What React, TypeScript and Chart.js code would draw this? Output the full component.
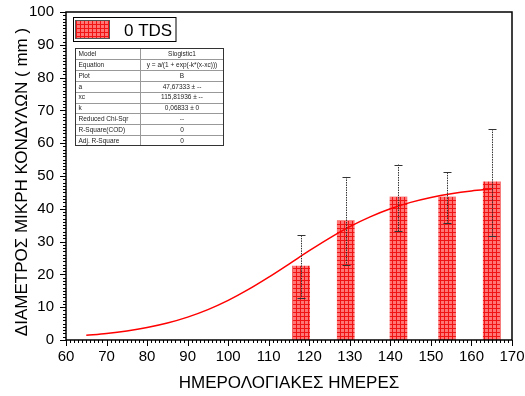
import React, { useEffect, useRef } from "react";
import { Chart, registerables } from "chart.js";

Chart.register(...registerables);

const dayLabels = [118, 129, 142, 154, 165];
const meanDiameter = [22.5, 36.3, 43.6, 43.6, 48.2];
const errUpper = [31.9, 49.7, 53.5, 51.1, 64.3];
const errLower = [12.9, 22.9, 33.2, 35.6, 31.6];

const fitDays = [65, 70, 75, 80, 85, 90, 95, 100, 105, 110, 115, 120, 125, 130, 135, 140, 145, 150, 155, 160, 165];
const fitValues = [1.43, 1.99, 2.76, 3.8, 5.17, 6.97, 9.26, 12.07, 15.41, 19.16, 23.16, 27.22, 31.07, 34.56, 37.54, 40.01, 41.96, 43.46, 44.6, 45.45, 46.07];

const xTicks = [60, 70, 80, 90, 100, 110, 120, 130, 140, 150, 160, 170];
const yTicks = [0, 10, 20, 30, 40, 50, 60, 70, 80, 90, 100];

const tableRows: [string, string][] = [
  ["Model", "Slogistic1"],
  ["Equation", "y = a/(1 + exp(-k*(x-xc)))"],
  ["Plot", "B"],
  ["a", "47,67333 \u00b1 --"],
  ["xc", "115,81936 \u00b1 --"],
  ["k", "0,06833 \u00b1 0"],
  ["Reduced Chi-Sqr", "--"],
  ["R-Square(COD)", "0"],
  ["Adj. R-Square", "0"],
];

const legendLabel = "0 TDS";
const xTitle = "ΗΜΕΡΟΛΟΓΙΑΚΕΣ ΗΜΕΡΕΣ";
const yTitle = "ΔΙΑΜΕΤΡΟΣ ΜΙΚΡΗ ΚΟΝΔΥΛΩΝ ( mm )";

const FONT = "Arial, 'Liberation Sans', sans-serif";

function makePattern(): CanvasPattern | string {
  const c = document.createElement("canvas");
  c.width = 4;
  c.height = 4;
  const g = c.getContext("2d");
  if (!g) return "#ff7070";
  g.fillStyle = "rgb(255,118,118)";
  g.fillRect(0, 0, 4, 4);
  g.fillStyle = "rgb(240,20,20)";
  g.fillRect(0, 0, 4, 1);
  g.fillRect(0, 0, 1, 4);
  const p = g.createPattern(c, "repeat");
  return p || "#ff7070";
}

export default function App() {
  const ref = useRef<HTMLCanvasElement | null>(null);

  useEffect(() => {
    const canvas = ref.current;
    if (!canvas) return;
    const pattern = makePattern();

    const decor = {
      id: "decor",
      afterDatasetsDraw(chart: any) {
        const ctx = chart.ctx as CanvasRenderingContext2D;
        const xs = chart.scales.x;
        const ys = chart.scales.y;
        ctx.save();
        ctx.strokeStyle = "#333";
        ctx.lineWidth = 1;
        for (let i = 0; i < dayLabels.length; i++) {
          const px = Math.round(xs.getPixelForValue(dayLabels[i])) + 0.5;
          const top = ys.getPixelForValue(errUpper[i]);
          const bot = ys.getPixelForValue(errLower[i]);
          ctx.setLineDash([1.5, 1]);
          ctx.beginPath();
          ctx.moveTo(px, top);
          ctx.lineTo(px, bot);
          ctx.stroke();
          ctx.setLineDash([]);
          ctx.beginPath();
          ctx.moveTo(px - 4, Math.round(top) + 0.5);
          ctx.lineTo(px + 4, Math.round(top) + 0.5);
          ctx.moveTo(px - 4, Math.round(bot) + 0.5);
          ctx.lineTo(px + 4, Math.round(bot) + 0.5);
          ctx.stroke();
        }
        ctx.restore();
      },
      afterDraw(chart: any) {
        const ctx = chart.ctx as CanvasRenderingContext2D;
        const a = chart.chartArea;
        const xs = chart.scales.x;
        const ys = chart.scales.y;
        ctx.save();
        ctx.strokeStyle = "#000";
        ctx.lineWidth = 1.5;
        ctx.strokeRect(a.left, a.top, a.right - a.left, a.bottom - a.top);
        ctx.lineWidth = 1;
        ctx.beginPath();
        for (let v = 60; v <= 170; v++) {
          const px = Math.round(xs.getPixelForValue(v)) + 0.5;
          const len = v % 10 === 0 ? 6 : 3;
          ctx.moveTo(px, a.bottom);
          ctx.lineTo(px, a.bottom + len);
        }
        for (let v = 0; v <= 100; v++) {
          const py = Math.round(ys.getPixelForValue(v)) + 0.5;
          const len = v % 10 === 0 ? 6 : 3;
          ctx.moveTo(a.left, py);
          ctx.lineTo(a.left - len, py);
        }
        ctx.stroke();

        ctx.fillStyle = "#000";
        ctx.font = `17px ${FONT}`;
        ctx.textAlign = "center";
        ctx.textBaseline = "middle";
        ctx.fillText(xTitle, 289, 383);
        ctx.save();
        ctx.translate(22, 182);
        ctx.rotate(-Math.PI / 2);
        ctx.fillText(yTitle, 0, 0);
        ctx.restore();

        // legend
        ctx.fillStyle = "#fff";
        ctx.fillRect(73, 17.5, 103, 24);
        ctx.strokeStyle = "#000";
        ctx.lineWidth = 1;
        ctx.strokeRect(73.5, 17.5, 102.5, 24);
        ctx.fillStyle = pattern as any;
        ctx.fillRect(75, 20, 35, 19);
        ctx.strokeStyle = "#555";
        ctx.strokeRect(75.5, 20.5, 34, 18);
        ctx.fillStyle = "#000";
        ctx.font = `17px ${FONT}`;
        ctx.textAlign = "left";
        ctx.textBaseline = "middle";
        ctx.fillText(legendLabel, 124, 31);

        // table
        const tx0 = 75.5, tx1 = 140.5, tx2 = 223.5, ty0 = 48.5;
        const rh = 10.8;
        const ty1 = ty0 + rh * tableRows.length;
        ctx.fillStyle = "#fff";
        ctx.fillRect(tx0, ty0, tx2 - tx0, ty1 - ty0);
        ctx.strokeStyle = "#999";
        ctx.lineWidth = 1;
        ctx.beginPath();
        for (let i = 1; i < tableRows.length; i++) {
          const y = Math.round(ty0 + rh * i) + 0.5;
          ctx.moveTo(tx0, y);
          ctx.lineTo(tx2, y);
        }
        ctx.moveTo(tx1, ty0);
        ctx.lineTo(tx1, ty1);
        ctx.stroke();
        ctx.strokeStyle = "#333";
        ctx.strokeRect(tx0, ty0, tx2 - tx0, Math.round(ty1 - ty0));
        ctx.fillStyle = "#222";
        ctx.font = `6.5px ${FONT}`;
        ctx.textBaseline = "middle";
        tableRows.forEach((r, i) => {
          const cy = ty0 + rh * i + rh / 2 + 0.5;
          ctx.textAlign = "left";
          ctx.fillText(r[0], tx0 + 3, cy);
          ctx.textAlign = "center";
          ctx.fillText(r[1], (tx1 + tx2) / 2, cy);
        });
        ctx.restore();
      },
    };

    const chart = new Chart(canvas, {
      type: "bar",
      data: {
        datasets: [
          {
            type: "line",
            label: "fit",
            data: fitDays.map((d, i) => ({ x: d, y: fitValues[i] })),
            borderColor: "#ff0000",
            borderWidth: 1.5,
            pointRadius: 0,
            tension: 0.4,
            cubicInterpolationMode: "monotone",
            fill: false,
            order: 0,
          } as any,
          {
            type: "bar",
            label: legendLabel,
            data: dayLabels.map((d, i) => ({ x: d, y: meanDiameter[i] })),
            backgroundColor: pattern as any,
            borderWidth: 0,
            barThickness: 17,
            order: 1,
          } as any,
        ],
      },
      options: {
        responsive: false,
        animation: false,
        layout: { padding: { top: 12, right: 13, left: 0, bottom: 0 } },
        plugins: { legend: { display: false }, tooltip: { enabled: false } },
        scales: {
          x: {
            type: "linear",
            min: 60,
            max: 170,
            offset: false,
            afterFit: (s: any) => {
              s.height = 56;
              s.paddingLeft = 0;
              s.paddingRight = 0;
            },
            afterBuildTicks: (s: any) => {
              s.ticks = xTicks.map((v) => ({ value: v }));
            },
            grid: { display: false, drawTicks: false },
            border: { display: false },
            ticks: {
              padding: 8,
              color: "#000",
              font: { family: FONT, size: 15 },
              maxRotation: 0,
            },
          },
          y: {
            type: "linear",
            min: 0,
            max: 100,
            afterFit: (s: any) => {
              s.width = 66;
              s.paddingTop = 0;
              s.paddingBottom = 0;
            },
            afterBuildTicks: (s: any) => {
              s.ticks = yTicks.map((v) => ({ value: v }));
            },
            grid: { display: false, drawTicks: false },
            border: { display: false },
            ticks: {
              padding: 12,
              color: "#000",
              font: { family: FONT, size: 15 },
            },
          },
        },
      } as any,
      plugins: [decor],
    });
    return () => chart.destroy();
  }, []);

  return (
    <div style={{ position: "fixed", left: 0, top: 0, width: 525, height: 396, background: "#fff" }}>
      <canvas ref={ref} width={525} height={396} />
    </div>
  );
}
